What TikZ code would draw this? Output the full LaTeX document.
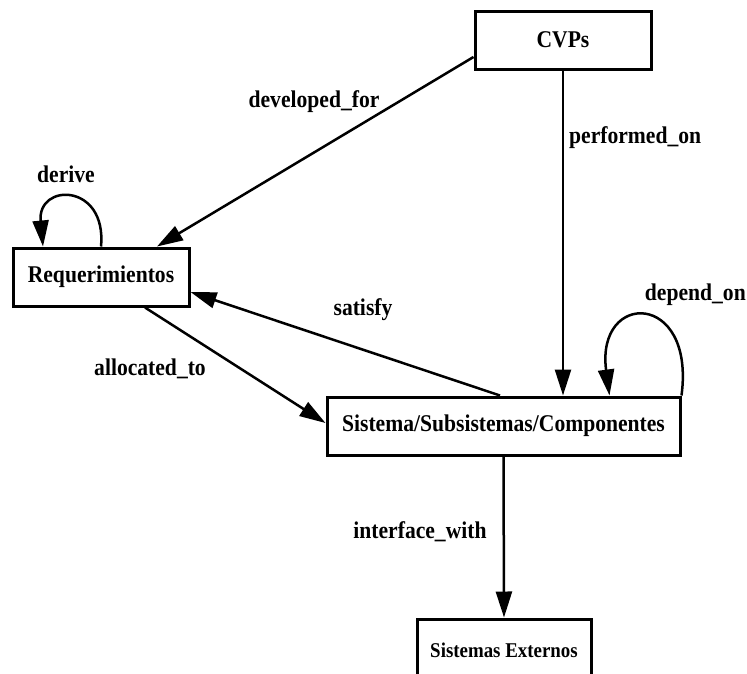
\documentclass[tikz,border=0pt]{standalone}
\usepackage{fontspec}
\setmainfont{Liberation Serif}[FakeStretch=0.9]
\usetikzlibrary{arrows.meta,calc}
\begin{document}
\begin{tikzpicture}[x=1pt,y=-1pt,
  box/.style={draw,line width=3pt,rectangle,minimum height=58pt,inner sep=0pt,
    font=\fontsize{24}{28}\selectfont\bfseries},
  lbl/.style={inner sep=0pt,font=\fontsize{24}{28}\selectfont\bfseries},
  edge/.style={line width=2.5pt,-{Triangle[length=26pt,width=16pt]}}]
\useasboundingbox (0,0) rectangle (747,673);
\node[box,minimum width=176pt] (cvp) at (563,40) {CVPs};
\node[box,minimum width=176pt] (req) at (101,277) {Requerimientos};
\node[box,minimum width=353pt] (sys) at (503.5,426) {Sistema/Subsistemas/Componentes};
\node[box,minimum width=174pt,minimum height=62pt,font=\fontsize{21}{25}\selectfont\bfseries] (ext) at (504,650) {Sistemas Externos};
% connectors
\draw[edge] ([yshift=-17pt]cvp.west) -- ([xshift=56pt]req.north);
\draw[edge] (req.north) .. controls +(6,-64) and +(-6,-64) .. ([xshift=-58pt]req.north);
\draw[edge] (cvp.south) -- (cvp.south |- sys.north);
\draw[edge] (sys.north east) .. controls +(14,-105) and +(-14,-105) .. ([xshift=106pt]sys.north);
\draw[edge] ([xshift=-3.5pt]sys.north) -- ([yshift=-15pt]req.east);
\draw[edge] ([xshift=44pt]req.south) -- ([yshift=3pt]sys.west);
\draw[edge] (sys.south) -- (ext.north);
% labels
\node[lbl,anchor=base] (l1) at (314,107) {developed\_for};
\node[lbl,anchor=base] (l2) at (66,182) {derive};
\node[lbl,anchor=base west] (l3) at (569,143) {performed\_on};
\node[lbl,anchor=base east] (l4) at (746,300) {depend\_on};
\node[lbl,anchor=base] (l5) at (363,315) {satisfy};
\node[lbl,anchor=base] (l6) at (150,375) {allocated\_to};
\node[lbl,anchor=base] (l7) at (420,538) {interface\_with};
\end{tikzpicture}
\end{document}
